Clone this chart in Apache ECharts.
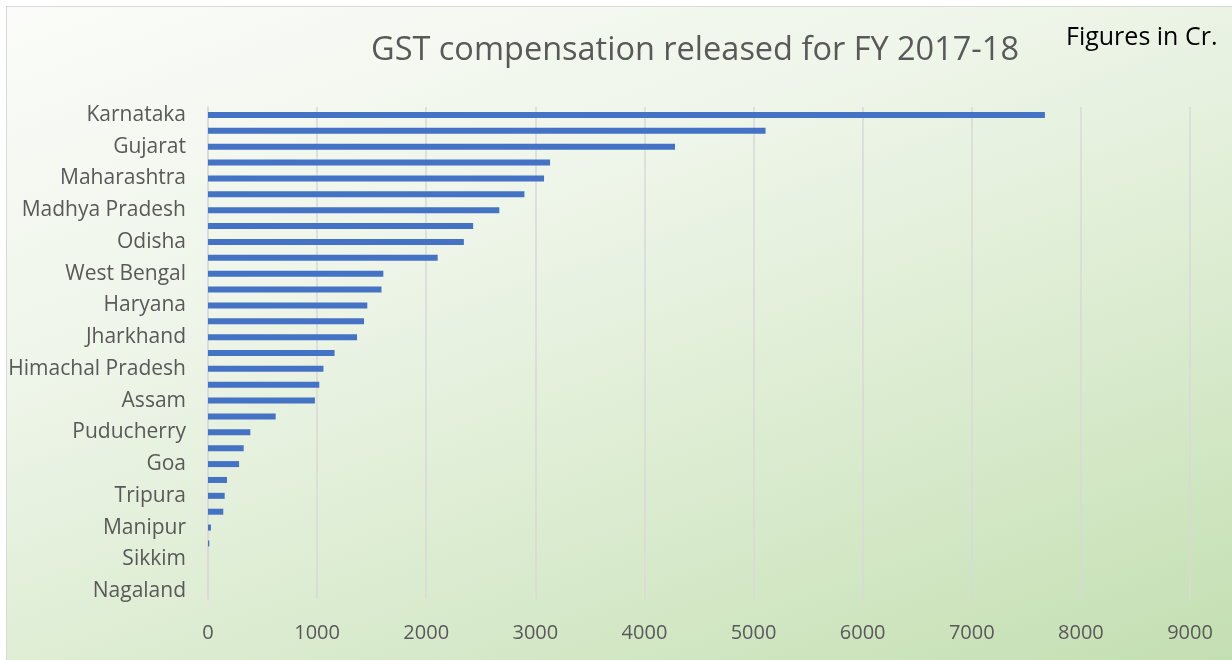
<!DOCTYPE html>
<html>
<head>
<meta charset="utf-8">
<script src="https://cdn.jsdelivr.net/npm/echarts@6/dist/echarts.min.js"></script>
<style>
html,body{margin:0;padding:0;width:1232px;height:660px;background:#ffffff;overflow:hidden;}
#frame{position:absolute;left:6px;top:6px;width:1226px;height:654px;box-sizing:border-box;border-left:1px solid #d9d9d9;border-top:1px solid #d9d9d9;
background:linear-gradient(160deg,#fbfcf9 0%,#eef5e9 35%,#d8eacc 70%,#c4dfb2 100%);}
#chart{position:absolute;left:0;top:0;width:1232px;height:660px;}
</style>
</head>
<body>
<div id="frame"></div>
<div id="chart"></div>
<script>
const states = ["Karnataka","Punjab","Gujarat","Tamil Nadu","Maharashtra","Rajasthan","Madhya Pradesh","Kerala","Odisha","Chhattisgarh","West Bengal","Delhi","Haryana","Uttar Pradesh","Jharkhand","Bihar","Himachal Pradesh","Uttarakhand","Assam","Jammu & Kashmir","Puducherry","Telangana","Goa","Andhra Pradesh","Tripura","Meghalaya","Manipur","Mizoram","Sikkim","Arunachal Pradesh","Nagaland"];
const compensation = [7670,5110,4280,3135,3080,2900,2670,2430,2345,2105,1607,1590,1460,1430,1366,1160,1058,1020,980,620,388,327,285,174,153,140,27,12,0,0,0];
const xTicks = [0,1000,2000,3000,4000,5000,6000,7000,8000,9000];
const titleText = "GST compensation released for FY 2017-18";
const noteText = "Figures in Cr.";

const chart = echarts.init(document.getElementById('chart'), null, {renderer:'canvas'});
chart.setOption({
  backgroundColor: 'transparent',
  animation: false,
  title: [
    {text: titleText, left: 690, top: 29, textAlign: 'center',
     textStyle:{fontFamily:'Open Sans', fontSize:32.5, fontWeight:'normal', color:'#595959'}},
    {text: noteText, left: 1061, top: 20,
     textStyle:{fontFamily:'Open Sans', fontSize:25, fontWeight:'normal', color:'#000000'}}
  ],
  grid: {left:208, right:42, top:107, bottom:61, containLabel:false},
  xAxis: {
    type:'value', min:xTicks[0], max:xTicks[xTicks.length-1], interval:1000,
    axisLine:{show:false}, axisTick:{show:false},
    axisLabel:{fontFamily:'Open Sans', fontSize:20, color:'#595959', margin:24,
      formatter: function(v){ return String(v); }},
    splitLine:{show:true, lineStyle:{color:'#d9d9d9', width:1.5}}
  },
  yAxis: {
    type:'category', data: states, inverse:true,
    axisLine:{show:true, lineStyle:{color:'#d9d9d9', width:1.5}},
    axisTick:{show:false},
    axisLabel:{interval:1, fontFamily:'Open Sans', fontSize:21, color:'#595959', margin:22}
  },
  series: [{
    type:'bar', data: compensation, barWidth:6,
    itemStyle:{color:'#4472c4', borderWidth:0}
  }]
});
</script>
</body>
</html>
